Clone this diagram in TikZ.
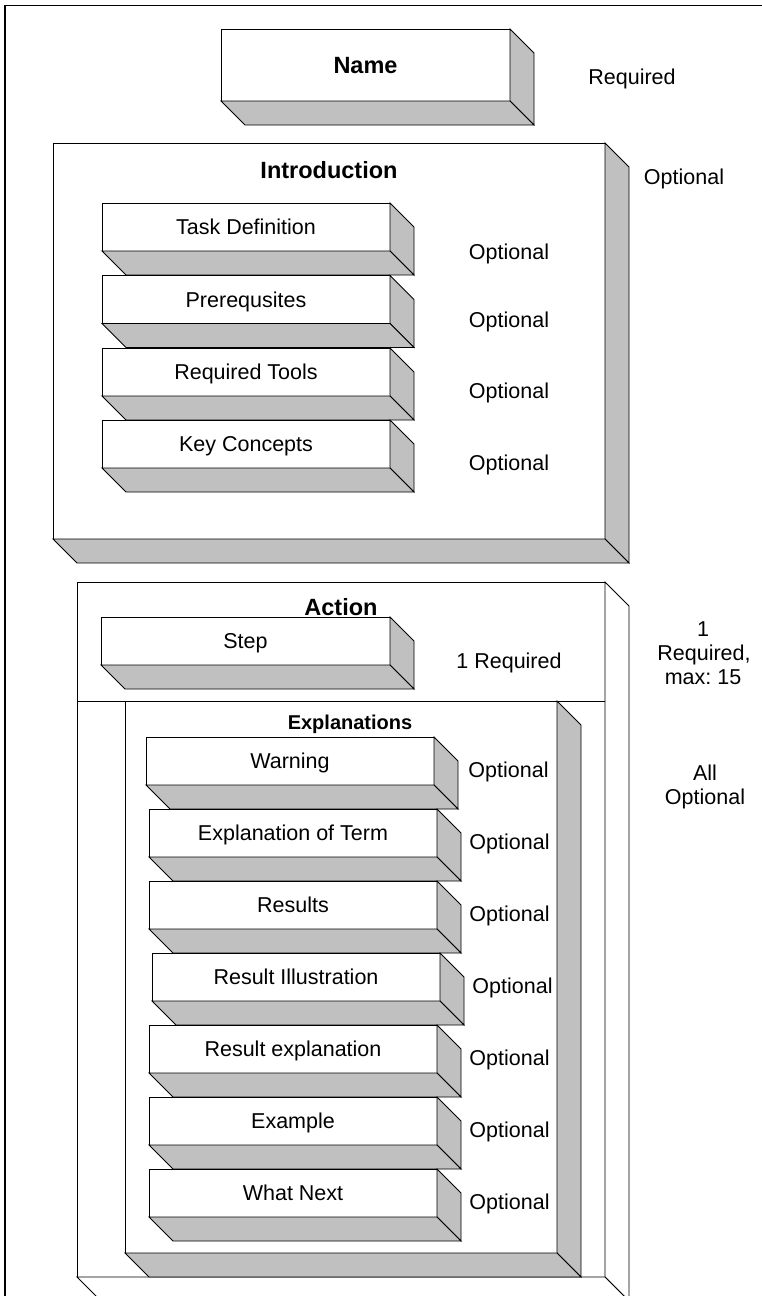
\documentclass[tikz,border=0pt]{standalone}
\usepackage{fontspec}
\setmainfont{Liberation Sans}
\usetikzlibrary{calc}
\definecolor{facegray}{HTML}{C0C0C0}
\frenchspacing

\tikzset{
  x=1pt, y=-1pt,
  edge/.style={draw=black, line width=0.9pt, line join=miter},
  front/.style={edge, fill=white, rectangle, inner sep=0pt, outer sep=0pt, anchor=north west},
  entry/.style={front, minimum width=288pt, minimum height=48pt,
    font=\fontsize{21.5}{24}\selectfont, text height=15.4pt, text depth=0pt},
  note/.style={inner sep=0pt, font=\fontsize{21.5}{24}\selectfont, text height=15.4pt, text depth=0pt},
  heading/.style={inner sep=0pt, font=\bfseries\fontsize{23.5}{26}\selectfont, text height=16.8pt, text depth=0pt},
  subheading/.style={inner sep=0pt, font=\bfseries\fontsize{20}{24}\selectfont, text height=14.3pt, text depth=0pt},
}

% right and bottom faces of a block whose front face is node #1
\newcommand\solidfaces[3]{%
  \filldraw[edge, fill=#3] (#1.north east) -- ++(#2,#2) -- ($(#1.south east)+(#2,#2)$) -- (#1.south east) -- cycle;
  \filldraw[edge, fill=#3] (#1.south west) -- (#1.south east) -- ++(#2,#2) -- ($(#1.south west)+(#2,#2)$) -- cycle;
}

\begin{document}
\begin{tikzpicture}
\useasboundingbox (0,0) rectangle (762,1296);
\clip (0,0) rectangle (762,1296);
\fill[white] (0,0) rectangle (762,1296);

% page frame
\draw[line width=1.2pt] (5,5.5) rectangle (900,1400);

% Name
\node[front, minimum width=289pt, minimum height=72pt,
      font=\bfseries\fontsize{23.5}{26}\selectfont, text height=16.8pt, text depth=0pt] (name) at (221,29) {Name};
\solidfaces{name}{24}{facegray}
\node[note] (nameReq) at (632,76.5) {Required};

% Introduction
\node[front, minimum width=552pt, minimum height=396pt] (intro) at (53,143) {};
\solidfaces{intro}{24}{facegray}
\node[heading] (introTitle) at (329,170) {Introduction};
\node[note] (introOpt) at (684,176.5) {Optional};

\node[entry] (task) at (102,203) {Task Definition};
\solidfaces{task}{24}{facegray}
\node[entry] (prereq) at (102,275.5) {Prerequsites};
\solidfaces{prereq}{24}{facegray}
\node[entry] (tools) at (102,348) {Required Tools};
\solidfaces{tools}{24}{facegray}
\node[entry] (concepts) at (102,420) {Key Concepts};
\solidfaces{concepts}{24}{facegray}

\node[note] (taskOpt) at (509,252) {Optional};
\node[note] (prereqOpt) at (509,320) {Optional};
\node[note] (toolsOpt) at (509,391) {Optional};
\node[note] (conceptsOpt) at (509,463) {Optional};

% Action
\node[front, minimum width=528pt, minimum height=695pt] (action) at (77,582) {};
\solidfaces{action}{24}{white}
\draw[edge] ($(action.north west)+(0,119)$) -- ($(action.north east)+(0,119)$);
\node[heading] (actionTitle) at (341,607) {Action};

\node[entry, minimum width=289pt] (step) at (101,617) {Step};
\solidfaces{step}{24}{facegray}
\node[note] (stepReq) at (509,661) {1 Required};

\node[note] (actOne) at (703,629) {1};
\node[note] (actReq) at (704,653) {Required,};
\node[note] (actMax) at (703,677) {max: 15};

% Explanations
\node[front, minimum width=432pt, minimum height=552pt] (expl) at (125,701) {};
\solidfaces{expl}{24}{facegray}
\node[subheading] (explTitle) at (350,722) {Explanations};

\node[entry] (warning) at (146,737) {Warning};
\solidfaces{warning}{24}{facegray}
\node[entry] (term) at (149,809) {Explanation of Term};
\solidfaces{term}{24}{facegray}
\node[entry] (results) at (149,881) {Results};
\solidfaces{results}{24}{facegray}
\node[entry] (illus) at (152,953) {Result Illustration};
\solidfaces{illus}{24}{facegray}
\node[entry] (resexpl) at (149,1025) {Result explanation};
\solidfaces{resexpl}{24}{facegray}
\node[entry] (example) at (149,1097) {Example};
\solidfaces{example}{24}{facegray}
\node[entry] (next) at (149,1169) {What Next};
\solidfaces{next}{24}{facegray}

\node[note] (warningOpt) at (508.5,770) {Optional};
\node[note] (termOpt) at (509.5,842) {Optional};
\node[note] (resultsOpt) at (509.5,914) {Optional};
\node[note] (illusOpt) at (512.5,986) {Optional};
\node[note] (resexplOpt) at (509.5,1058) {Optional};
\node[note] (exampleOpt) at (509.5,1130) {Optional};
\node[note] (nextOpt) at (509.5,1202) {Optional};

\node[note] (allOne) at (705,773) {All};
\node[note] (allOpt) at (705,797) {Optional};
\end{tikzpicture}
\end{document}
